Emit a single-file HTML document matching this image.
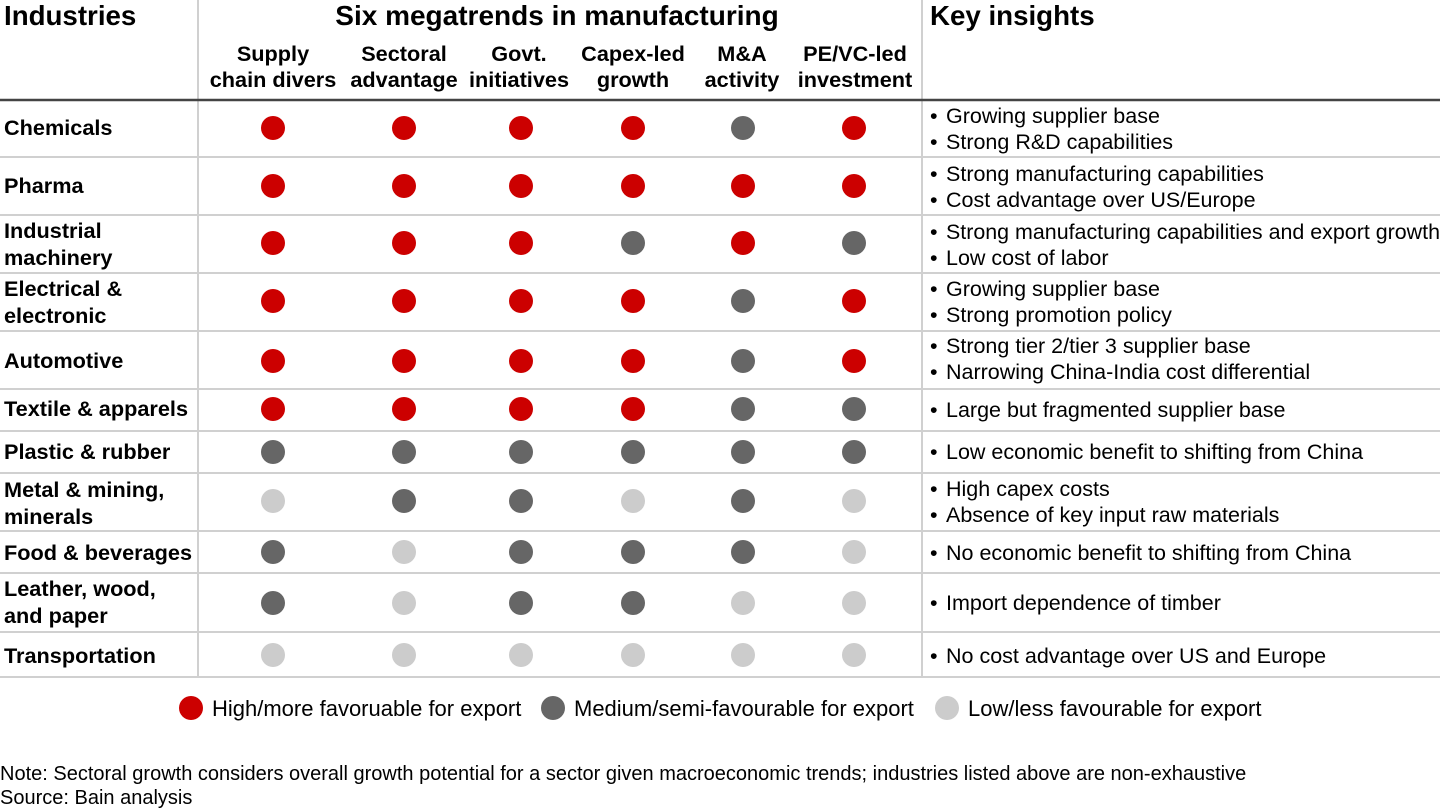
<!DOCTYPE html>
<html><head><meta charset="utf-8"><style>
html,body{margin:0;padding:0;background:#fff;}
svg{display:block;font-family:"Liberation Sans",Arial,sans-serif;}
.b{font-weight:bold;}
</style></head><body>
<svg width="1440" height="810" viewBox="0 0 1440 810" xmlns="http://www.w3.org/2000/svg">
<g stroke="#d0d0d0" stroke-width="2">
<line x1="198" y1="0" x2="198" y2="677"/>
<line x1="922" y1="0" x2="922" y2="677"/>
<line x1="0" y1="157" x2="1440" y2="157"/>
<line x1="0" y1="215" x2="1440" y2="215"/>
<line x1="0" y1="273" x2="1440" y2="273"/>
<line x1="0" y1="331" x2="1440" y2="331"/>
<line x1="0" y1="389" x2="1440" y2="389"/>
<line x1="0" y1="431" x2="1440" y2="431"/>
<line x1="0" y1="473" x2="1440" y2="473"/>
<line x1="0" y1="531" x2="1440" y2="531"/>
<line x1="0" y1="573" x2="1440" y2="573"/>
<line x1="0" y1="632" x2="1440" y2="632"/>
<line x1="0" y1="677" x2="1440" y2="677"/>
</g>
<line x1="0" y1="100" x2="1440" y2="100" stroke="#444" stroke-width="2.5"/>
<g class="b" fill="#000">
<text x="4" y="25" font-size="27.7">Industries</text>
<text x="557" y="25" font-size="28" text-anchor="middle">Six megatrends in manufacturing</text>
<text x="930" y="25" font-size="27.7">Key insights</text>
<g font-size="21.7" text-anchor="middle">
<text x="273" y="61">Supply</text><text x="273" y="87">chain divers</text>
<text x="404" y="61">Sectoral</text><text x="404" y="87">advantage</text>
<text x="519" y="61">Govt.</text><text x="519" y="87">initiatives</text>
<text x="633" y="61">Capex-led</text><text x="633" y="87">growth</text>
<text x="742" y="61">M&amp;A</text><text x="742" y="87">activity</text>
<text x="855" y="61">PE/VC-led</text><text x="855" y="87">investment</text>
</g>
<g font-size="21.7">
<text x="4" y="135">Chemicals</text>
<text x="4" y="193">Pharma</text>
<text x="4" y="238">Industrial</text><text x="4" y="265">machinery</text>
<text x="4" y="296">Electrical &amp;</text><text x="4" y="323">electronic</text>
<text x="4" y="368">Automotive</text>
<text x="4" y="416">Textile &amp; apparels</text>
<text x="4" y="459">Plastic &amp; rubber</text>
<text x="4" y="497">Metal &amp; mining,</text><text x="4" y="524">minerals</text>
<text x="4" y="560">Food &amp; beverages</text>
<text x="4" y="596">Leather, wood,</text><text x="4" y="623">and paper</text>
<text x="4" y="663">Transportation</text>
</g>
</g>
<g font-size="21.5" fill="#000">
<g>
<text x="930" y="123">•</text><text x="930" y="149">•</text>
<text x="930" y="181">•</text><text x="930" y="207">•</text>
<text x="930" y="239">•</text><text x="930" y="265">•</text>
<text x="930" y="296">•</text><text x="930" y="322">•</text>
<text x="930" y="353">•</text><text x="930" y="379">•</text>
<text x="930" y="417">•</text><text x="930" y="459">•</text>
<text x="930" y="496">•</text><text x="930" y="522">•</text>
<text x="930" y="560">•</text><text x="930" y="610">•</text>
<text x="930" y="663">•</text>
</g>
<text x="946" y="123">Growing supplier base</text>
<text x="946" y="149">Strong R&amp;D capabilities</text>
<text x="946" y="181">Strong manufacturing capabilities</text>
<text x="946" y="207">Cost advantage over US/Europe</text>
<text x="946" y="239" textLength="494" lengthAdjust="spacingAndGlyphs">Strong manufacturing capabilities and export growth</text>
<text x="946" y="265">Low cost of labor</text>
<text x="946" y="296">Growing supplier base</text>
<text x="946" y="322">Strong promotion policy</text>
<text x="946" y="353">Strong tier 2/tier 3 supplier base</text>
<text x="946" y="379">Narrowing China-India cost differential</text>
<text x="946" y="417">Large but fragmented supplier base</text>
<text x="946" y="459">Low economic benefit to shifting from China</text>
<text x="946" y="496">High capex costs</text>
<text x="946" y="522">Absence of key input raw materials</text>
<text x="946" y="560">No economic benefit to shifting from China</text>
<text x="946" y="610">Import dependence of timber</text>
<text x="946" y="663">No cost advantage over US and Europe</text>
</g>
<g>
<circle cx="273" cy="128" r="12" fill="#cc0000"/><circle cx="404" cy="128" r="12" fill="#cc0000"/><circle cx="521" cy="128" r="12" fill="#cc0000"/><circle cx="633" cy="128" r="12" fill="#cc0000"/><circle cx="743" cy="128" r="12" fill="#666"/><circle cx="854" cy="128" r="12" fill="#cc0000"/>
<circle cx="273" cy="186" r="12" fill="#cc0000"/><circle cx="404" cy="186" r="12" fill="#cc0000"/><circle cx="521" cy="186" r="12" fill="#cc0000"/><circle cx="633" cy="186" r="12" fill="#cc0000"/><circle cx="743" cy="186" r="12" fill="#cc0000"/><circle cx="854" cy="186" r="12" fill="#cc0000"/>
<circle cx="273" cy="243" r="12" fill="#cc0000"/><circle cx="404" cy="243" r="12" fill="#cc0000"/><circle cx="521" cy="243" r="12" fill="#cc0000"/><circle cx="633" cy="243" r="12" fill="#666"/><circle cx="743" cy="243" r="12" fill="#cc0000"/><circle cx="854" cy="243" r="12" fill="#666"/>
<circle cx="273" cy="301" r="12" fill="#cc0000"/><circle cx="404" cy="301" r="12" fill="#cc0000"/><circle cx="521" cy="301" r="12" fill="#cc0000"/><circle cx="633" cy="301" r="12" fill="#cc0000"/><circle cx="743" cy="301" r="12" fill="#666"/><circle cx="854" cy="301" r="12" fill="#cc0000"/>
<circle cx="273" cy="361" r="12" fill="#cc0000"/><circle cx="404" cy="361" r="12" fill="#cc0000"/><circle cx="521" cy="361" r="12" fill="#cc0000"/><circle cx="633" cy="361" r="12" fill="#cc0000"/><circle cx="743" cy="361" r="12" fill="#666"/><circle cx="854" cy="361" r="12" fill="#cc0000"/>
<circle cx="273" cy="409" r="12" fill="#cc0000"/><circle cx="404" cy="409" r="12" fill="#cc0000"/><circle cx="521" cy="409" r="12" fill="#cc0000"/><circle cx="633" cy="409" r="12" fill="#cc0000"/><circle cx="743" cy="409" r="12" fill="#666"/><circle cx="854" cy="409" r="12" fill="#666"/>
<circle cx="273" cy="452" r="12" fill="#666"/><circle cx="404" cy="452" r="12" fill="#666"/><circle cx="521" cy="452" r="12" fill="#666"/><circle cx="633" cy="452" r="12" fill="#666"/><circle cx="743" cy="452" r="12" fill="#666"/><circle cx="854" cy="452" r="12" fill="#666"/>
<circle cx="273" cy="501" r="12" fill="#cccccc"/><circle cx="404" cy="501" r="12" fill="#666"/><circle cx="521" cy="501" r="12" fill="#666"/><circle cx="633" cy="501" r="12" fill="#cccccc"/><circle cx="743" cy="501" r="12" fill="#666"/><circle cx="854" cy="501" r="12" fill="#cccccc"/>
<circle cx="273" cy="552" r="12" fill="#666"/><circle cx="404" cy="552" r="12" fill="#cccccc"/><circle cx="521" cy="552" r="12" fill="#666"/><circle cx="633" cy="552" r="12" fill="#666"/><circle cx="743" cy="552" r="12" fill="#666"/><circle cx="854" cy="552" r="12" fill="#cccccc"/>
<circle cx="273" cy="603" r="12" fill="#666"/><circle cx="404" cy="603" r="12" fill="#cccccc"/><circle cx="521" cy="603" r="12" fill="#666"/><circle cx="633" cy="603" r="12" fill="#666"/><circle cx="743" cy="603" r="12" fill="#cccccc"/><circle cx="854" cy="603" r="12" fill="#cccccc"/>
<circle cx="273" cy="655" r="12" fill="#cccccc"/><circle cx="404" cy="655" r="12" fill="#cccccc"/><circle cx="521" cy="655" r="12" fill="#cccccc"/><circle cx="633" cy="655" r="12" fill="#cccccc"/><circle cx="743" cy="655" r="12" fill="#cccccc"/><circle cx="854" cy="655" r="12" fill="#cccccc"/>
</g>
<circle cx="191" cy="708" r="12" fill="#cc0000"/>
<circle cx="553" cy="708" r="12" fill="#666"/>
<circle cx="947" cy="708" r="12" fill="#cccccc"/>
<g font-size="22" fill="#000">
<text x="212" y="716">High/more favoruable for export</text>
<text x="574" y="716">Medium/semi-favourable for export</text>
<text x="968" y="716">Low/less favourable for export</text>
</g>
<g font-size="20" fill="#000">
<text x="0" y="780">Note: Sectoral growth considers overall growth potential for a sector given macroeconomic trends; industries listed above are non-exhaustive</text>
<text x="0" y="804">Source: Bain analysis</text>
</g>
</svg>
</body></html>
